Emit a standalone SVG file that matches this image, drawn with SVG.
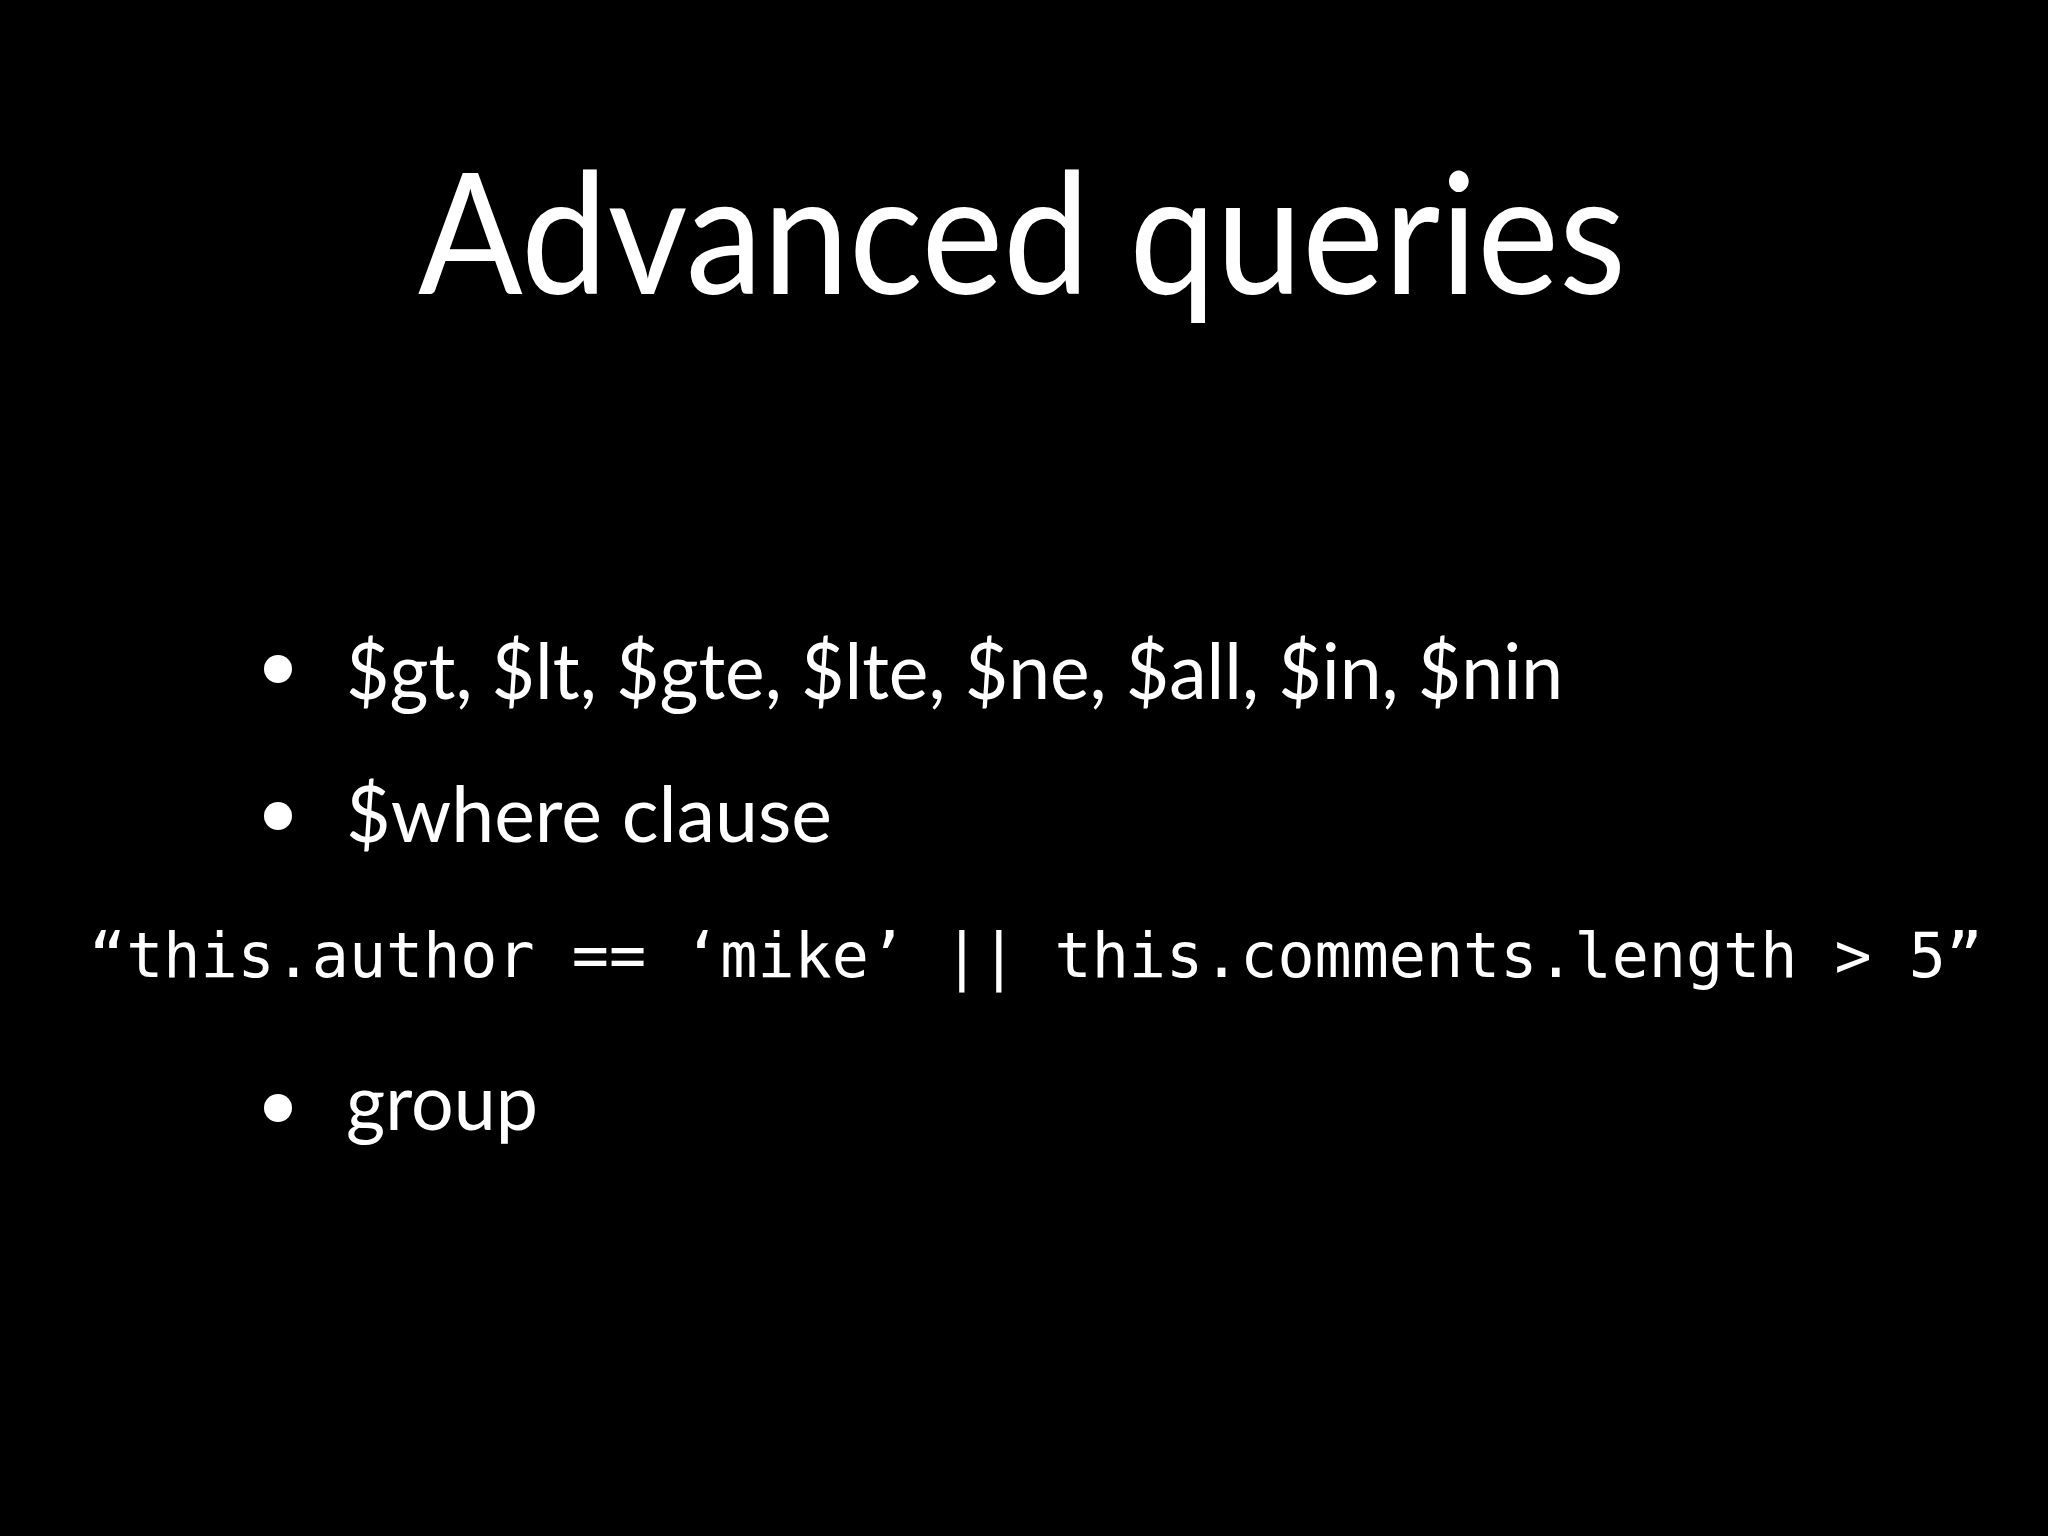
<svg xmlns="http://www.w3.org/2000/svg" width="2048" height="1536" viewBox="0 0 2048 1536">
<style>
.t{fill:#fff;font-family:Lato,"Open Sans","Liberation Sans",sans-serif}
.m{fill:#fff;font-family:"DejaVu Sans Mono","Liberation Mono",monospace}
</style>
<rect width="2048" height="1536" fill="#000"/>
<g id="title"><text class="t" x="418" y="294" font-size="168" textLength="1208" lengthAdjust="spacingAndGlyphs">Advanced queries</text></g>
<g id="b1"><circle cx="278" cy="669" r="14" fill="#fff"/><text class="t" x="346" y="699" font-size="78" textLength="1217" lengthAdjust="spacingAndGlyphs">$gt, $lt, $gte, $lte, $ne, $all, $in, $nin</text></g>
<g id="b2"><circle cx="278" cy="816" r="14" fill="#fff"/><text class="t" x="346" y="842" font-size="78" textLength="486" lengthAdjust="spacingAndGlyphs">$where clause</text></g>
<g id="code"><text class="m" x="89" y="977" font-size="62" textLength="1894" lengthAdjust="spacingAndGlyphs">“this.author == ‘mike’ || this.comments.length &gt; 5”</text></g>
<g id="b3"><circle cx="278" cy="1108" r="14" fill="#fff"/><text class="t" x="346" y="1130" font-size="78" textLength="192" lengthAdjust="spacingAndGlyphs">group</text></g>
</svg>
